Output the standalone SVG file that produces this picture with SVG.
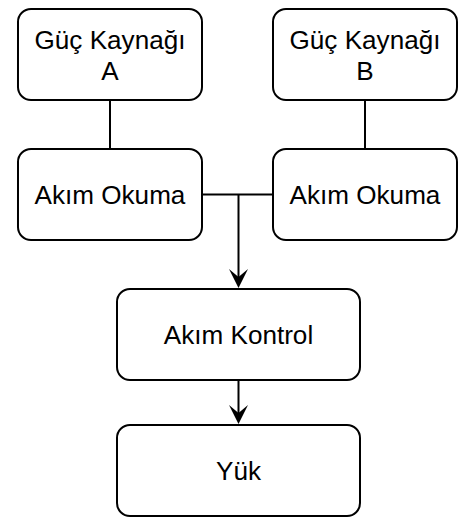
<svg xmlns="http://www.w3.org/2000/svg" width="463" height="522" viewBox="0 0 463 522">
<style>
.box{fill:#fff;stroke:#000;stroke-width:2}
.lbl{font-family:"Liberation Sans",Arial,sans-serif;font-size:26.1px;fill:#000;text-anchor:middle}
.edge{fill:none;stroke:#000;stroke-width:2}
</style>
<defs>
<marker id="arr" markerUnits="userSpaceOnUse" markerWidth="20" markerHeight="20" viewBox="0 0 20 20" refX="8" refY="9.5" orient="auto">
<path d="M0,0 L19,9.5 L0,19 L8,9.5 Z" fill="#000"/>
</marker>
</defs>
<rect width="463" height="522" fill="#fff"/>
<g id="connectors">
<path class="edge" d="M110,100 V149"/>
<path class="edge" d="M365,100 V149"/>
<path class="edge" d="M202,194.5 H273"/>
<path class="edge" d="M238.5,194.5 V277" marker-end="url(#arr)"/>
<path class="edge" d="M238.5,380 V413" marker-end="url(#arr)"/>
</g>
<g id="guc-a">
<rect class="box" x="18" y="9" width="184" height="91" rx="13"/>
<text class="lbl" x="110" y="49">Güç Kaynağı</text>
<text class="lbl" x="110" y="80">A</text>
</g>
<g id="guc-b">
<rect class="box" x="273" y="9" width="184" height="91" rx="13"/>
<text class="lbl" x="365" y="49">Güç Kaynağı</text>
<text class="lbl" x="365" y="80">B</text>
</g>
<g id="okuma-a">
<rect class="box" x="18" y="149" width="184" height="91" rx="13"/>
<text class="lbl" x="110" y="203.5">Akım Okuma</text>
</g>
<g id="okuma-b">
<rect class="box" x="273" y="149" width="184" height="91" rx="13"/>
<text class="lbl" x="365" y="203.5">Akım Okuma</text>
</g>
<g id="kontrol">
<rect class="box" x="117" y="289" width="243" height="91" rx="13"/>
<text class="lbl" x="238.5" y="343.5">Akım Kontrol</text>
</g>
<g id="yuk">
<rect class="box" x="117" y="425" width="243" height="91" rx="13"/>
<text class="lbl" x="238.5" y="479.5">Yük</text>
</g>
</svg>
